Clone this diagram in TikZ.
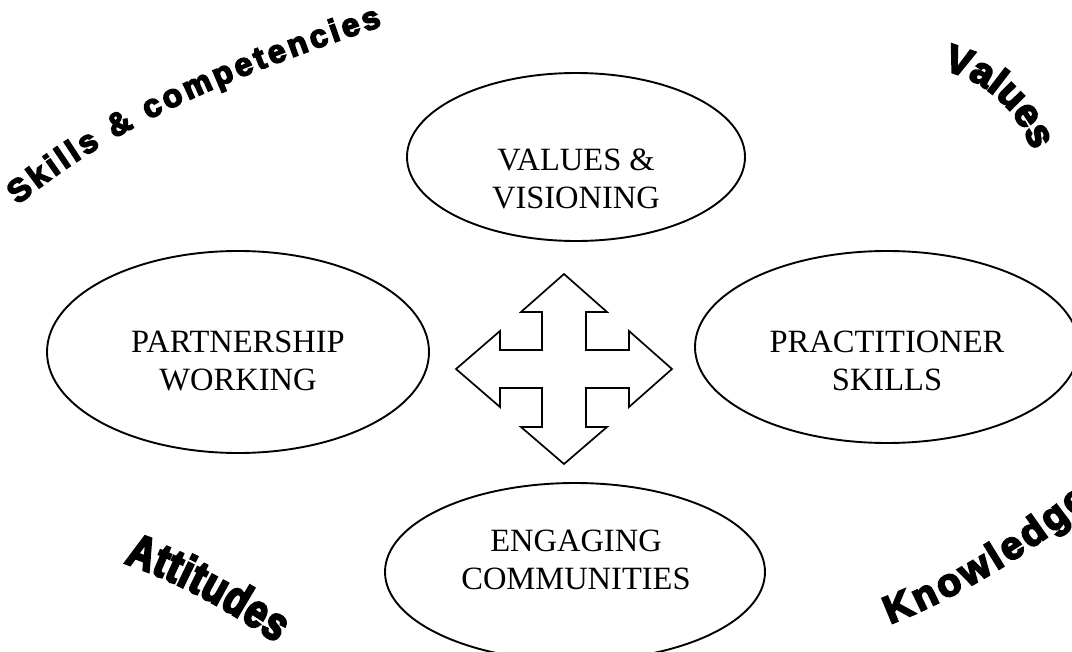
\documentclass[tikz,border=0pt]{standalone}
\usepackage{fontspec}
\setmainfont{Liberation Serif}
\newfontfamily\wordart{Liberation Sans}[BoldFeatures={FakeBold=5}]
\newfontfamily\wordartnarrow{Liberation Sans}[BoldFeatures={FakeBold=5,FakeStretch=0.8}]
\usetikzlibrary{shapes.geometric,decorations.text}

\tikzset{
  oval/.style={ellipse, draw, line width=1.9pt, inner sep=0pt},
  caption/.style={font=\fontsize{32.5}{38}\selectfont, align=center, inner sep=0pt},
  crossarrow/.style={draw, line width=1.7pt, line join=miter},
  curvedword/.style={decorate, decoration={text along path, text={#1}, text align={fit to path}}},
  curvedwordc/.style={decorate, decoration={text along path, text={#1}, text align=center}}
}

\begin{document}
\begin{tikzpicture}[x=1pt, y=-1pt]
  \useasboundingbox (0,0) rectangle (1072,652);

  % the four themes
  \node[oval, minimum width=338pt, minimum height=168pt] (values) at (576,157) {};
  \node[caption] (values-text) at (576,179) {VALUES \&\\VISIONING};

  \node[oval, minimum width=382pt, minimum height=202pt] (partner) at (238,352) {};
  \node[caption] (partner-text) at (238,361) {PARTNERSHIP\\WORKING};

  \node[oval, minimum width=384pt, minimum height=192pt] (practice) at (887,347) {};
  \node[caption] (practice-text) at (887,361) {PRACTITIONER\\SKILLS};

  \node[oval, minimum width=380pt, minimum height=178pt] (engage) at (575,572) {};
  \node[caption] (engage-text) at (576,560) {ENGAGING\\COMMUNITIES};

  % four-way arrow in the middle
  \draw[crossarrow] (564,274) -- (607,312) -- (586,312) -- (586,350) -- (629,350)
    -- (629,331) -- (672,369) -- (629,407) -- (629,388) -- (586,388) -- (586,427)
    -- (607,427) -- (564,464) -- (521,427) -- (542,427) -- (542,388) -- (500,388)
    -- (500,407) -- (456,369) -- (500,331) -- (500,350) -- (542,350) -- (542,312)
    -- (521,312) -- cycle;

  % curved headings in the corners
  \path[curvedword={|\wordart\bfseries\fontsize{32}{32}\selectfont|Skills {\&} competencies}]
    (18,205) .. controls (121,119) and (253,69) .. (382,26);

  \path[curvedwordc={|\wordart\bfseries\fontsize{39}{39}\selectfont|Values}]
    (943,70) .. controls (985,80) and (1018,110) .. (1032,150);

  \path[curvedword={|\wordartnarrow\bfseries\fontsize{47}{47}\selectfont|Attitudes}]
    (124,563) .. controls (176,581) and (226,608) .. (276,643);

  \path[curvedword={|\wordart\bfseries\fontsize{39}{39}\selectfont|Knowledge}]
    (890,624) .. controls (954,600) and (1040,548) .. (1090,503);
\end{tikzpicture}
\end{document}
